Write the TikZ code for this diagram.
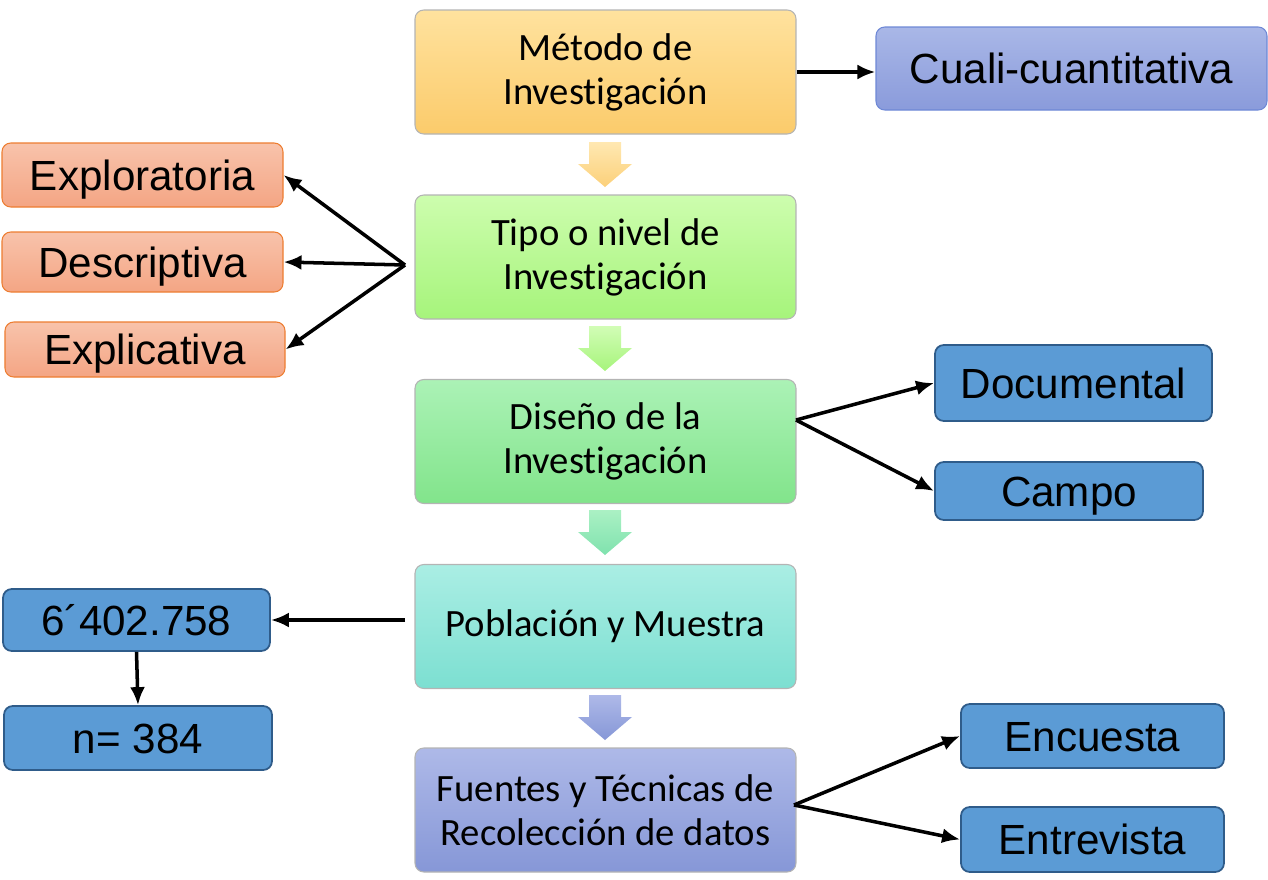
\documentclass[tikz,border=0pt]{standalone}
\usepackage{fontspec}
\setmainfont[Ligatures=NoCommon]{Carlito}
\newfontfamily\arialfont{Liberation Sans}
\usetikzlibrary{arrows.meta}

\definecolor{metodotop}{HTML}{FFE29E}
\definecolor{metodobot}{HTML}{FBCB6B}
\definecolor{tipotop}{HTML}{CDFDAE}
\definecolor{tipobot}{HTML}{A6F47B}
\definecolor{disenotop}{HTML}{ABF2B6}
\definecolor{disenobot}{HTML}{82E48B}
\definecolor{pobtop}{HTML}{AAEEE4}
\definecolor{pobbot}{HTML}{7CDFD1}
\definecolor{fuentestop}{HTML}{AEB9E8}
\definecolor{fuentesbot}{HTML}{8697D7}
\definecolor{cualitop}{HTML}{A9B7E7}
\definecolor{cualibot}{HTML}{8A9BDB}
\definecolor{cualiedge}{HTML}{6E88D6}
\definecolor{salmontop}{HTML}{F8C3AB}
\definecolor{salmonbot}{HTML}{F4A584}
\definecolor{salmonedge}{HTML}{ED7D31}
\definecolor{bluefill}{HTML}{5B9BD5}
\definecolor{blueedge}{HTML}{2F5C8A}
\definecolor{boxgray}{HTML}{B4B4B4}

\tikzset{
  mainbox/.style={draw=boxgray, line width=0.6pt, rounded corners=5pt,
    minimum width=7.62cm, minimum height=2.48cm, align=center,
    font=\fontsize{22}{25}\selectfont},
  sidebox/.style={rounded corners=5pt, inner sep=0pt,
    text height=17.5pt, text depth=0pt,
    font=\arialfont\fontsize{24}{28}\selectfont},
  salmonbox/.style={sidebox, draw=salmonedge, line width=0.6pt,
    top color=salmontop, bottom color=salmonbot},
  bluebox/.style={sidebox, draw=blueedge, line width=1pt, fill=bluefill},
  link/.style={-{Latex[length=0.36cm,width=0.3cm]}, line width=2pt}
}

% block arrow pointing down: #1 top y, #2 top colour, #3 bottom colour
\newcommand{\downchevron}[3]{%
  \shade[top color=#2, bottom color=#3]
    (11.78,#1) -- (12.42,#1) -- (12.42,#1-0.44) -- (12.64,#1-0.44)
    -- (12.1,#1-0.9) -- (11.56,#1-0.44) -- (11.78,#1-0.44) -- cycle;}

\begin{document}
\begin{tikzpicture}
\useasboundingbox (0,0) rectangle (25.36,-17.6);

% middle column
\node[mainbox, top color=metodotop, bottom color=metodobot] (metodo) at (12.11,-1.44) {Método de\\Investigación};
\node[mainbox, top color=tipotop, bottom color=tipobot] (tipo) at (12.11,-5.14) {Tipo o nivel de\\Investigación};
\node[mainbox, top color=disenotop, bottom color=disenobot] (diseno) at (12.11,-8.83) {Diseño de la\\Investigación};
\node[mainbox, top color=pobtop, bottom color=pobbot] (poblacion) at (12.11,-12.53) {Población y Muestra};
\node[mainbox, top color=fuentestop, bottom color=fuentesbot] (fuentes) at (12.11,-16.2) {Fuentes y Técnicas de\\Recolección de datos};

% chevrons between the steps
\downchevron{-2.84}{metodotop!80}{metodobot!90}
\downchevron{-6.52}{tipotop!90}{tipobot}
\downchevron{-10.2}{disenotop!70!pobtop}{disenobot!50!pobbot}
\downchevron{-13.9}{fuentestop}{fuentesbot}

% top right
\node[sidebox, draw=cualiedge, line width=0.6pt, top color=cualitop, bottom color=cualibot,
  minimum width=7.82cm, minimum height=1.66cm] (cuali) at (21.43,-1.37) {Cuali-cuantitativa};
\draw[link] (metodo.east) -- (metodo.east -| cuali.west);

% left, kind of research
\node[salmonbox, minimum width=5.62cm, minimum height=1.28cm] (explora) at (2.85,-3.5) {Exploratoria};
\node[salmonbox, minimum width=5.62cm, minimum height=1.2cm] (descrip) at (2.85,-5.24) {Descriptiva};
\node[salmonbox, minimum width=5.6cm, minimum height=1.1cm] (explica) at (2.9,-6.99) {Explicativa};
\coordinate (tipoL) at (8.1,-5.3);
\draw[link] (tipoL) -- (explora.east);
\draw[link] (tipoL) -- (descrip.east);
\draw[link] (tipoL) -- (explica.east);

% right, design
\node[bluebox, minimum width=5.54cm, minimum height=1.52cm] (documental) at (21.47,-7.66) {Documental};
\node[bluebox, minimum width=5.36cm, minimum height=1.16cm] (campo) at (21.38,-9.82) {Campo};
\coordinate (disR) at (15.92,-8.4);
\draw[link] (disR) -- (documental.west);
\draw[link] (disR) -- (campo.west);

% left, population
\node[bluebox, minimum width=5.34cm, minimum height=1.24cm] (universo) at (2.73,-12.4) {6´402.758};
\node[bluebox, minimum width=5.36cm, minimum height=1.28cm] (muestra) at (2.76,-14.76) {n= 384};
\coordinate (pobL) at (8.1,-12.4);
\draw[link] (pobL) -- (universo.east);
\draw[link] (universo.south) -- (muestra.north);

% right, techniques
\node[bluebox, minimum width=5.26cm, minimum height=1.28cm] (encuesta) at (21.85,-14.72) {Encuesta};
\node[bluebox, minimum width=5.26cm, minimum height=1.3cm] (entrevista) at (21.85,-16.79) {Entrevista};
\coordinate (fueR) at (15.88,-16.1);
\draw[link] (fueR) -- (encuesta.west);
\draw[link] (fueR) -- (entrevista.west);

\end{tikzpicture}
\end{document}
